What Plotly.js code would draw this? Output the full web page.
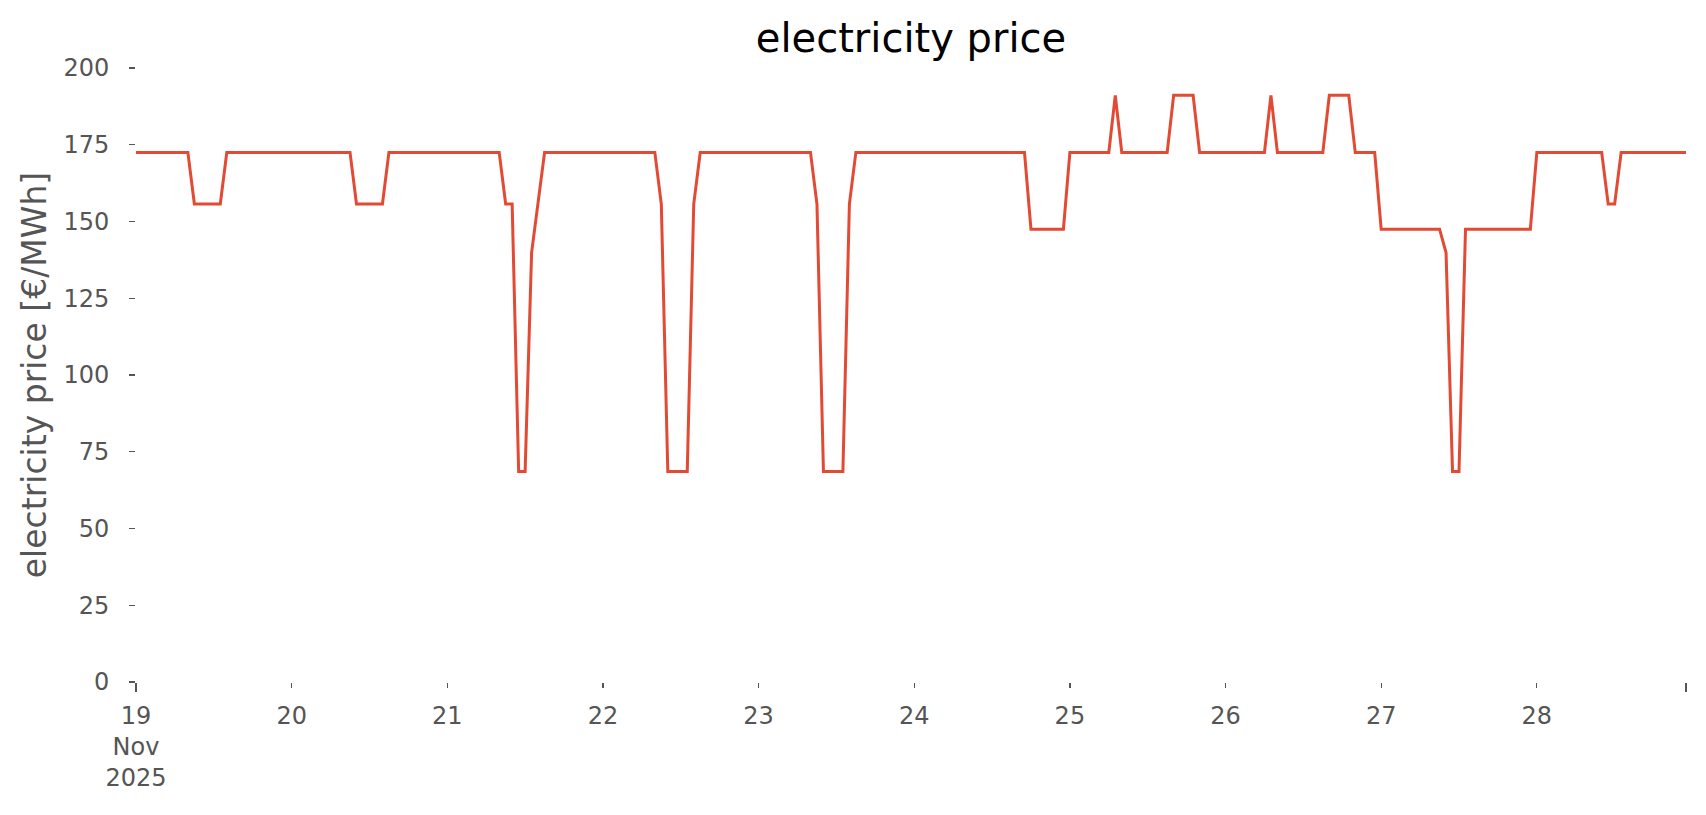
<!DOCTYPE html>
<html>
<head>
<meta charset="utf-8">
<script src="https://cdn.plot.ly/plotly-3.0.1.min.js"></script>
<style>html,body{margin:0;padding:0;background:#fff;}#chart{width:1706px;height:815px;}</style>
</head>
<body>
<div id="chart"></div>
<script>
// Hourly electricity price [€/MWh], 19–28 Nov 2025 (hours 0..23 of each day)
const startDay = '2025-11-19';
const day19 = [172.5,172.5,172.5,172.5,172.5,172.5,172.5,172.5,172.5,155.7,155.7,155.7,155.7,155.7,172.5,172.5,172.5,172.5,172.5,172.5,172.5,172.5,172.5,172.5];
const day20 = [172.5,172.5,172.5,172.5,172.5,172.5,172.5,172.5,172.5,172.5,155.7,155.7,155.7,155.7,155.7,172.5,172.5,172.5,172.5,172.5,172.5,172.5,172.5,172.5];
const day21 = [172.5,172.5,172.5,172.5,172.5,172.5,172.5,172.5,172.5,155.7,155.7,68.6,68.6,139.9,156.2,172.5,172.5,172.5,172.5,172.5,172.5,172.5,172.5,172.5];
const day22 = [172.5,172.5,172.5,172.5,172.5,172.5,172.5,172.5,172.5,155.7,68.6,68.6,68.6,68.6,155.7,172.5,172.5,172.5,172.5,172.5,172.5,172.5,172.5,172.5];
const day23 = [172.5,172.5,172.5,172.5,172.5,172.5,172.5,172.5,172.5,155.7,68.6,68.6,68.6,68.6,155.7,172.5,172.5,172.5,172.5,172.5,172.5,172.5,172.5,172.5];
const day24 = [172.5,172.5,172.5,172.5,172.5,172.5,172.5,172.5,172.5,172.5,172.5,172.5,172.5,172.5,172.5,172.5,172.5,172.5,147.5,147.5,147.5,147.5,147.5,147.5];
const day25 = [172.5,172.5,172.5,172.5,172.5,172.5,172.5,191.1,172.5,172.5,172.5,172.5,172.5,172.5,172.5,172.5,191.1,191.1,191.1,191.1,172.5,172.5,172.5,172.5];
const day26 = [172.5,172.5,172.5,172.5,172.5,172.5,172.5,191.1,172.5,172.5,172.5,172.5,172.5,172.5,172.5,172.5,191.1,191.1,191.1,191.1,172.5,172.5,172.5,172.5];
const day27 = [147.5,147.5,147.5,147.5,147.5,147.5,147.5,147.5,147.5,147.5,139.9,68.6,68.6,147.5,147.5,147.5,147.5,147.5,147.5,147.5,147.5,147.5,147.5,147.5];
const day28 = [172.5,172.5,172.5,172.5,172.5,172.5,172.5,172.5,172.5,172.5,172.5,155.7,155.7,172.5,172.5,172.5,172.5,172.5,172.5,172.5,172.5,172.5,172.5,172.5];

const days = [day19, day20, day21, day22, day23, day24, day25, day26, day27, day28];
const dayTickLabels = ['19<br>Nov<br>2025','20','21','22','23','24','25','26','27','28'];
const yTicks = [0,25,50,75,100,125,150,175,200];

function pad(n){return (n<10?'0':'')+n;}
const x = [], y = [];
const base = new Date(startDay + 'T00:00:00Z');
days.forEach((vals, d) => {
  vals.forEach((v, h) => {
    const t = new Date(base.getTime() + (d*24 + h)*3600000);
    x.push(t.getUTCFullYear()+'-'+pad(t.getUTCMonth()+1)+'-'+pad(t.getUTCDate())+' '+pad(t.getUTCHours())+':00');
    y.push(v);
  });
});
const dayTickVals = days.map((_, d) => {
  const t = new Date(base.getTime() + d*24*3600000);
  return t.getUTCFullYear()+'-'+pad(t.getUTCMonth()+1)+'-'+pad(t.getUTCDate())+' 00:00';
});
const xStart = x[0], xEnd = x[x.length-1];

const font = 'DejaVu Sans, sans-serif';
const grey = '#555555';

const traces = [{
  type: 'scatter', mode: 'lines', x: x, y: y,
  line: {color: '#E24A33', width: 3},
  hoverinfo: 'x+y', showlegend: false
}];

const layout = {
  width: 1706, height: 815,
  paper_bgcolor: '#ffffff', plot_bgcolor: '#ffffff',
  margin: {l: 136, r: 20, t: 68, b: 133},
  title: {text: 'electricity price', font: {family: font, size: 40, color: '#000000'},
          x: 0.5, xref: 'paper', xanchor: 'center', y: 1 - 38/815, yref: 'container', yanchor: 'middle'},
  xaxis: {
    type: 'date', range: [xStart, xEnd],
    tickmode: 'array', tickvals: dayTickVals, ticktext: dayTickLabels,
    ticks: 'outside', ticklen: 5, tickwidth: 1.3, tickcolor: grey,
    tickfont: {family: font, size: 24, color: grey},
    showgrid: false, zeroline: false, showline: false, ticklabelstandoff: 7
  },
  xaxis2: {
    type: 'date', range: [xStart, xEnd], overlaying: 'x', side: 'bottom',
    tickmode: 'array', tickvals: [xStart, xEnd], ticktext: ['', ''],
    ticks: 'outside', ticklen: 9, tickwidth: 1.3, tickcolor: grey,
    showgrid: false, zeroline: false, showline: false, showticklabels: false
  },
  yaxis: {
    range: [0, 200], tickmode: 'array', tickvals: yTicks,
    ticks: 'outside', ticklen: 6, tickwidth: 1.3, tickcolor: grey,
    tickfont: {family: font, size: 24, color: grey},
    showgrid: false, zeroline: false, showline: false, ticklabelstandoff: 15,
    title: {text: 'electricity price [€/MWh]', font: {family: font, size: 33, color: grey}, standoff: 6}
  }
};
traces.push({type: 'scatter', mode: 'lines', x: [xStart, xEnd], y: [null, null], xaxis: 'x2', yaxis: 'y', showlegend: false, hoverinfo: 'skip'});
Plotly.newPlot('chart', traces, layout, {displayModeBar: false, staticPlot: true});
</script>
</body>
</html>
